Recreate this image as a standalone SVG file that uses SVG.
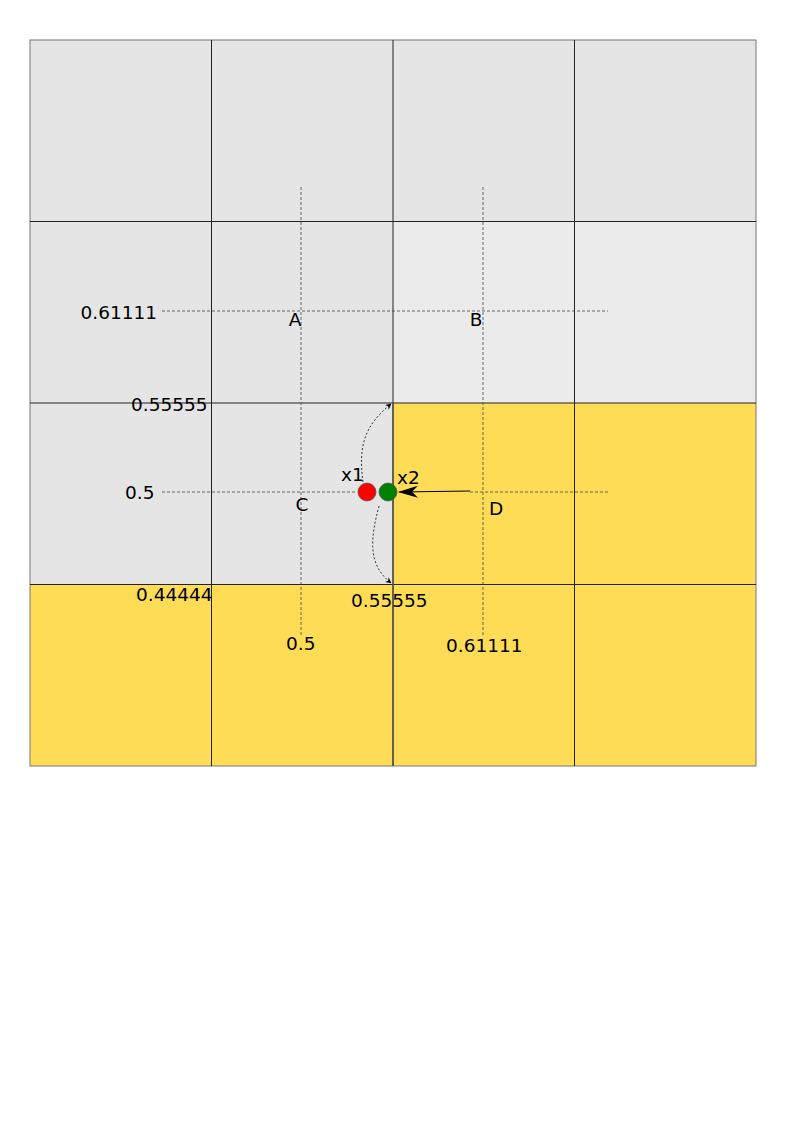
<svg xmlns="http://www.w3.org/2000/svg" width="794" height="1123" viewBox="0 0 794 1123">
<style>
.gray{fill:#e5e5e5}
.light{fill:#ebebeb}
.yel{fill:#ffdc55}
.grid{stroke:#222;stroke-width:1;fill:none}
.dash{stroke:#444;stroke-width:0.8;stroke-dasharray:3,2;fill:none}
.dot{stroke:#333;stroke-width:1;stroke-dasharray:2,2;fill:none}
text{font-family:"DejaVu Sans",sans-serif;font-size:18.5px;fill:#000}
</style>
<defs>
<marker id="ah" viewBox="0 0 10 10" refX="9" refY="5" markerWidth="6" markerHeight="6" orient="auto" markerUnits="userSpaceOnUse">
<path d="M0,0 L10,5 L0,10 L3,5 z" fill="#000"/>
</marker>
<marker id="ahBig" viewBox="0 0 20 12" refX="19" refY="6" markerWidth="20" markerHeight="12" orient="auto" markerUnits="userSpaceOnUse">
<path d="M0,0 L20,6 L0,12 L6,6 z" fill="#000"/>
</marker>
</defs>
<g id="cells">
<rect class="gray" x="30" y="40" width="726" height="181.5"/>
<rect class="gray" x="30" y="221.5" width="363" height="181.5"/>
<rect class="light" x="393" y="221.5" width="363" height="181.5"/>
<rect class="gray" x="30" y="403" width="363" height="181.5"/>
<rect class="yel" x="393" y="403" width="363" height="181.5"/>
<rect class="yel" x="30" y="584.5" width="726" height="181.5"/>
</g>
<g id="gridlines">
<rect x="30" y="40" width="726" height="726" fill="none" stroke="#777" stroke-width="1"/>
<path class="grid" d="M211.5,40V766M393,40V766M574.5,40V766M30,221.5H756M30,403H756M30,584.5H756"/>
<path d="M393,403V766" stroke="#555" stroke-width="1.5" fill="none"/>
</g>
<g id="connectors">
<path class="dash" d="M301,187V635M483,187V635M162,311H608M162,492H357M470,492H608"/>
<path class="dot" d="M363,482 C358,445 365,425 391,404" marker-end="url(#ah)"/>
<path class="dot" d="M379,506 C370,540 368,565 391,583" marker-end="url(#ah)"/>
<path d="M470,491 L399,492" stroke="#000" stroke-width="1.2" fill="none" marker-end="url(#ahBig)"/>
</g>
<g id="x1"><circle cx="367" cy="492" r="9" fill="#ff0000" stroke="#555" stroke-width="0.8"/><text x="341" y="481">x1</text></g>
<g id="x2"><circle cx="388" cy="492" r="9" fill="#008000" stroke="#555" stroke-width="0.8"/><text x="397" y="484">x2</text></g>
<g id="labels">
<text x="157" y="319" text-anchor="end">0.61111</text>
<text x="295" y="326" text-anchor="middle">A</text>
<text x="476" y="326" text-anchor="middle">B</text>
<text x="131" y="411">0.55555</text>
<text x="125" y="499">0.5</text>
<text x="302" y="511" text-anchor="middle">C</text>
<text x="496" y="515" text-anchor="middle">D</text>
<text x="136" y="601">0.44444</text>
<text x="351" y="607">0.55555</text>
<text x="286" y="650">0.5</text>
<text x="446" y="652">0.61111</text>
</g>
</svg>
